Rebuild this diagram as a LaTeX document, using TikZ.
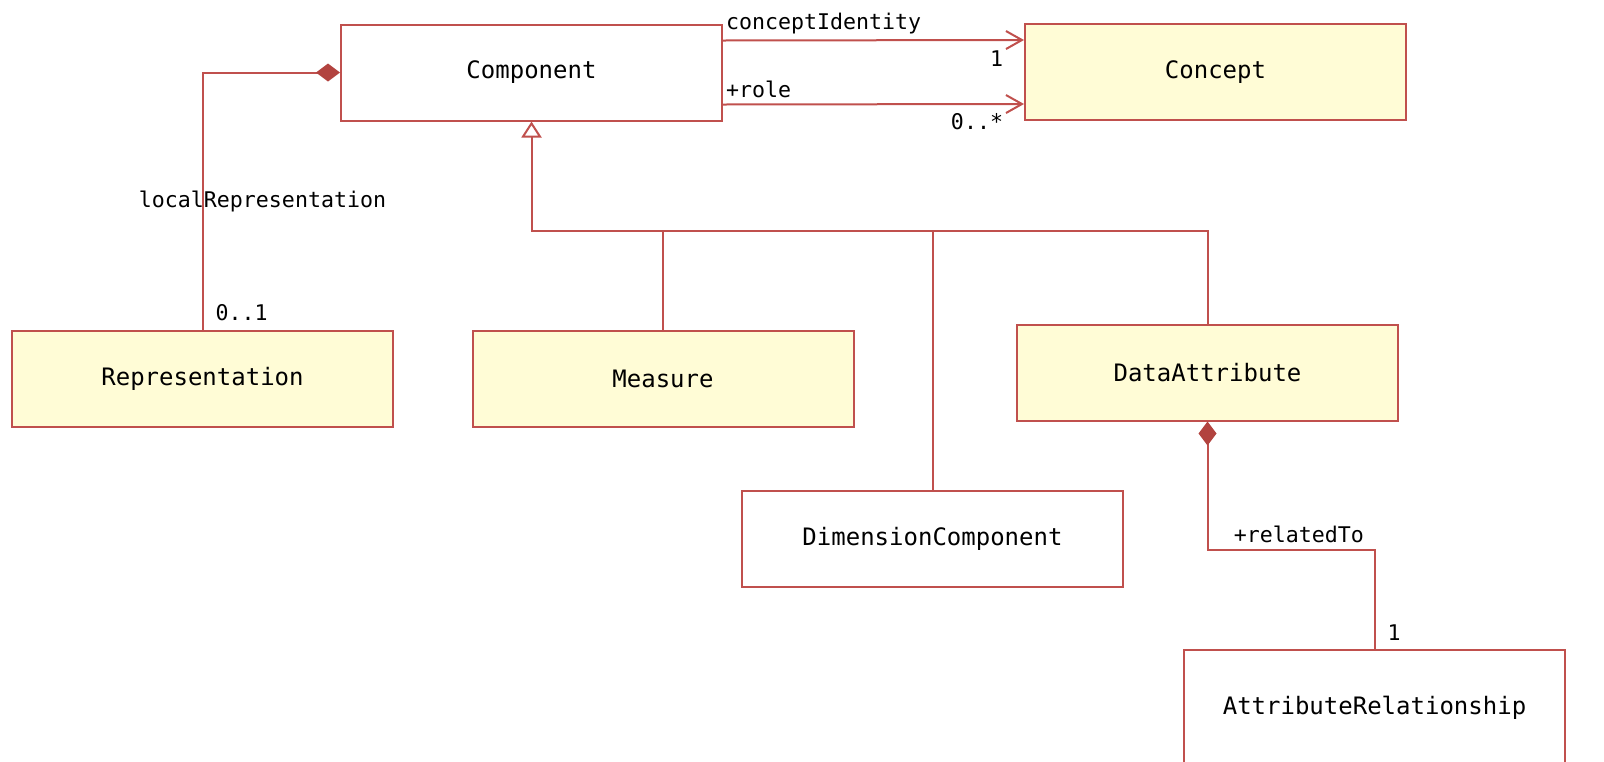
\documentclass[tikz,border=0pt]{standalone}
\usepackage{fontspec}
\setmonofont{DejaVu Sans Mono}
\usepackage{tikz}
\usetikzlibrary{arrows.meta, positioning}
\definecolor{umlline}{HTML}{C0504D}
\definecolor{umldiam}{HTML}{B2433F}
\definecolor{umlfill}{HTML}{FFFCD6}
\tikzstyle{umlclass} = [rectangle, minimum width=190.5pt, minimum height=48pt, text centered, draw=umlline, line width=1pt, font=\ttfamily\fontsize{12}{14}\selectfont]
\tikzstyle{umllink} = [draw=umlline, line width=1pt]
\tikzstyle{lbl} = [font=\ttfamily\fontsize{10.8}{13}\selectfont, inner sep=1pt]

\begin{document}
\begin{tikzpicture}[x=0.5pt, y=-0.5pt]
        \useasboundingbox (0,0) rectangle (1604,761);

        \node[umlclass] (comp) at (531.5,72.5) {Component};
        \node[umlclass, fill=umlfill] (concept) at (1215.5,72) {Concept};

        \node[umlclass, fill=umlfill] (rep) at (202.5,378.5) {Representation};
        \node[umlclass, fill=umlfill] (meas) at (663,378.5) {Measure};
        \node[umlclass, fill=umlfill] (da) at (1207.5,372.5) {DataAttribute};
        \node[umlclass] (dim) at (932.5,538.5) {DimensionComponent};
        \node[umlclass, minimum height=58pt] (ar) at (1374.5,708) {AttributeRelationship};

        \coordinate (hub) at (531.5,231);
        \coordinate (bend) at (1207.5,550);

        % associations to Concept
        \draw [umllink, -{Straight Barb[length=8pt, width=9pt]}] ([yshift=16pt]comp.east) -- node[lbl, pos=0, anchor=south west, yshift=2pt] (ci) {conceptIdentity} node[lbl, pos=1, anchor=north east, xshift=-9pt, yshift=-4pt] (one) {1} ([yshift=16pt]concept.west);
        \draw [umllink, -{Straight Barb[length=8pt, width=9pt]}] ([yshift=-16pt]comp.east) -- node[lbl, pos=0, anchor=south west, yshift=2pt] (role) {+role} node[lbl, pos=1, anchor=north east, xshift=-9pt, yshift=-3pt] (many) {0..*} ([yshift=-16pt]concept.west);

        % composition
        \draw [umllink, -{Diamond[length=12pt, width=9pt, fill=umldiam, color=umldiam]}] (rep.north) -- node[lbl, pos=0, anchor=south west, xshift=5pt, yshift=3pt] (lrm) {0..1} node[lbl, pos=0.5, xshift=30pt] (lr) {localRepresentation} (rep.north |- comp.west) -- (comp.west);

        % generalization
        \draw [umllink, {Triangle[open, length=8pt, width=10pt, fill=white]}-] (comp.south) -- (hub) -| (da.north);
        \draw [umllink] (hub) -| (meas.north);
        \draw [umllink] (hub) -| (dim.north);

        % attribute relationship
        \draw [umllink, {Diamond[length=12pt, width=9pt, fill=umldiam, color=umldiam]}-] (da.south) -- (bend) -| node[lbl, pos=0.07, anchor=south west, yshift=2pt] (rt) {+relatedTo} node[lbl, pos=1, anchor=south west, xshift=5pt, yshift=3pt] (rtm) {1} (ar.north);

    \end{tikzpicture}
\end{document}
